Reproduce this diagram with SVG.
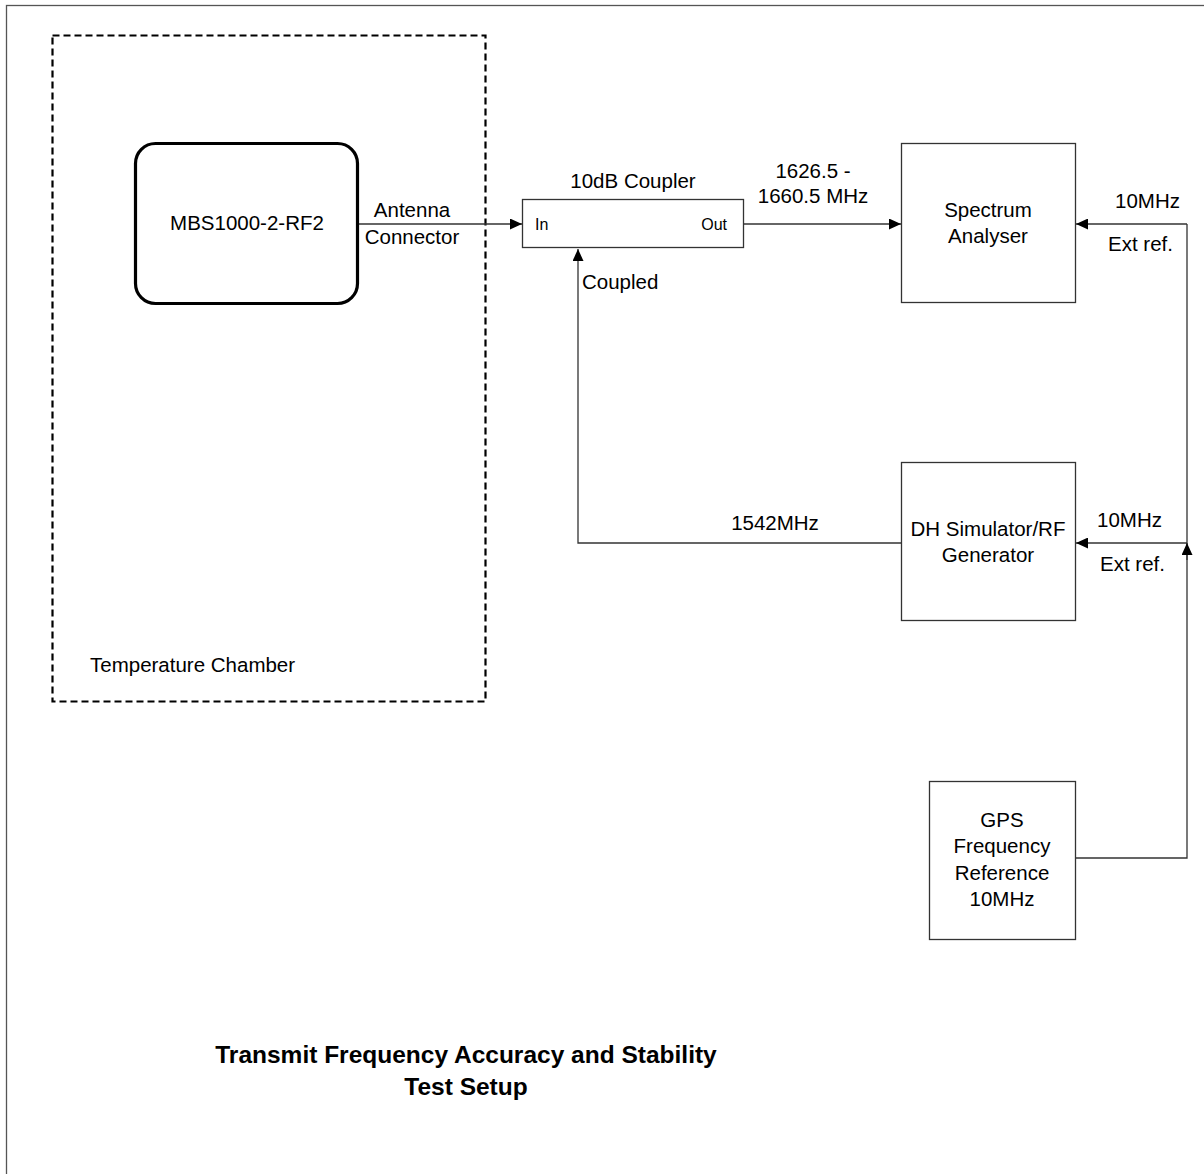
<svg xmlns="http://www.w3.org/2000/svg" width="1204" height="1174" viewBox="0 0 1204 1174">
<style>
text{font-family:"Liberation Sans",Arial,sans-serif;font-size:20.5px;fill:#000}
.c{text-anchor:middle}
.s{font-size:16px}
.t{font-size:24.5px;font-weight:bold}
.box{fill:#fff;stroke:#333;stroke-width:1.3}
.ln{fill:none;stroke:#333;stroke-width:1.3}
</style>
<defs>
<marker id="ah" viewBox="0 0 12 11" refX="12" refY="5.5" markerWidth="12" markerHeight="11" markerUnits="userSpaceOnUse" orient="auto">
<path d="M0,0 L12,5.5 L0,11 Z" fill="#000"/>
</marker>
</defs>
<rect x="0" y="0" width="1204" height="1174" fill="#fff"/>
<rect x="6.5" y="5.5" width="1220" height="1190" fill="none" stroke="#555" stroke-width="1.3"/>
<g id="chamber">
<rect x="52.5" y="35.5" width="433" height="666" fill="none" stroke="#000" stroke-width="2.2" stroke-dasharray="7,4"/>
<text x="90" y="672">Temperature Chamber</text>
</g>
<g id="connectors">
<line class="ln" x1="358" y1="224" x2="522" y2="224" marker-end="url(#ah)"/>
<line class="ln" x1="744" y1="224" x2="901" y2="224" marker-end="url(#ah)"/>
<polyline class="ln" points="901,543 578,543 578,249" marker-end="url(#ah)"/>
<polyline class="ln" points="1187,224 1187,858 1076,858"/>
<line class="ln" x1="1187" y1="224" x2="1076" y2="224" marker-end="url(#ah)"/>
<line class="ln" x1="1187" y1="543" x2="1076" y2="543" marker-end="url(#ah)"/>
<line class="ln" x1="1187" y1="560" x2="1187" y2="543" marker-end="url(#ah)"/>
<text class="c" x="412" y="217">Antenna</text>
<text class="c" x="412" y="244">Connector</text>
<text class="c" x="813" y="178">1626.5 -</text>
<text class="c" x="813" y="203">1660.5 MHz</text>
<text x="582" y="289">Coupled</text>
<text class="c" x="775" y="530">1542MHz</text>
<text x="1115" y="208">10MHz</text>
<text x="1108" y="251">Ext ref.</text>
<text x="1097" y="527">10MHz</text>
<text x="1100" y="571">Ext ref.</text>
</g>
<g id="mbs">
<rect x="135.5" y="143.5" width="222" height="160" rx="20" ry="20" fill="#fff" stroke="#000" stroke-width="3.2"/>
<text class="c" x="247" y="230">MBS1000-2-RF2</text>
</g>
<g id="coupler">
<rect class="box" x="522.5" y="199.5" width="221" height="48"/>
<text class="c" x="633" y="188">10dB Coupler</text>
<text class="s" x="535" y="230">In</text>
<text class="s" x="727" y="230" text-anchor="end">Out</text>
</g>
<g id="spectrum">
<rect class="box" x="901.5" y="143.5" width="174" height="159"/>
<text class="c" x="988" y="217">Spectrum</text>
<text class="c" x="988" y="243">Analyser</text>
</g>
<g id="dh">
<rect class="box" x="901.5" y="462.5" width="174" height="158"/>
<text class="c" x="988" y="536">DH Simulator/RF</text>
<text class="c" x="988" y="562">Generator</text>
</g>
<g id="gps">
<rect class="box" x="929.5" y="781.5" width="146" height="158"/>
<text class="c" x="1002" y="827">GPS</text>
<text class="c" x="1002" y="853">Frequency</text>
<text class="c" x="1002" y="880">Reference</text>
<text class="c" x="1002" y="906">10MHz</text>
</g>
<g id="title">
<text class="c t" x="466" y="1063">Transmit Frequency Accuracy and Stability</text>
<text class="c t" x="466" y="1095">Test Setup</text>
</g>
</svg>
